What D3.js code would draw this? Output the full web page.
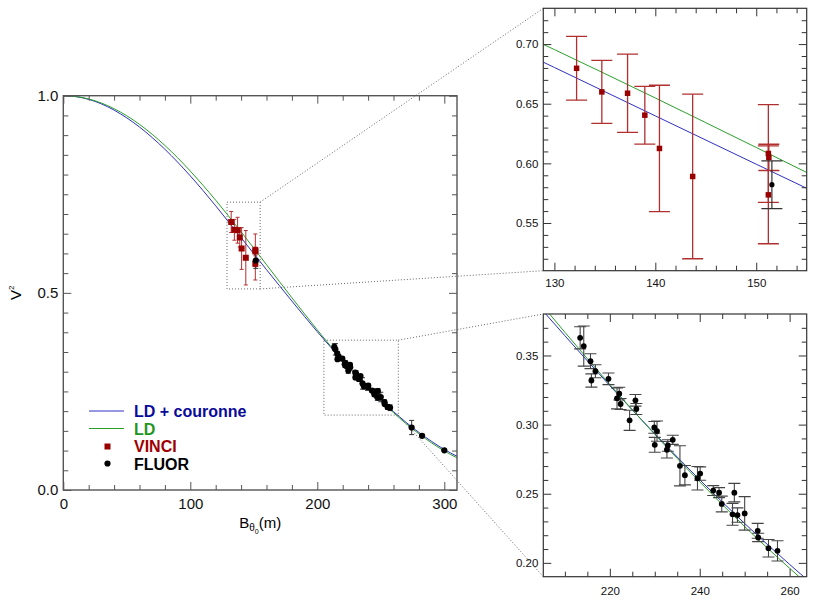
<html>
<head>
  <meta charset='utf-8' />
  <style>
    text { font-family: 'Liberation Sans', Arial, Helvetica, sans-serif; }
  </style>
</head>

<body style='padding: 0; margin: 0;'>
  <svg width='818' height='602' style='background-color: white'>
  </svg>
</body>

<script src="https://d3js.org/d3.v7.min.js"></script>

<script>
///////////////////
/// Data
///////////////////

  // model curves, baseline (m) -> V^2
  modelB = [0, 10, 20, 30, 40, 50, 60, 70, 80, 90, 100, 110, 120, 130, 140, 150,
            160, 170, 180, 190, 200, 210, 220, 230, 240, 250, 260, 270, 280, 290, 300, 310]
  modelLD = [1.0, 0.9979, 0.9917, 0.9814, 0.9671, 0.9490, 0.9273, 0.9021, 0.8738, 0.8426,
             0.8088, 0.7728, 0.7349, 0.6954, 0.6548, 0.6133, 0.5714, 0.5294, 0.4876, 0.4464,
             0.4060, 0.3668, 0.3290, 0.2929, 0.2586, 0.2263, 0.1961, 0.1681, 0.1425, 0.1195,
             0.0990, 0.0815]
  modelLDCouronne = [1.0, 0.9976, 0.9907, 0.9792, 0.9634, 0.9437, 0.9205, 0.8938, 0.8641, 0.8316,
                     0.7966, 0.7595, 0.7207, 0.6804, 0.6398, 0.5993, 0.5589, 0.5189, 0.4791, 0.4399,
                     0.4015, 0.3643, 0.3282, 0.2934, 0.2601, 0.2285, 0.1989, 0.1713, 0.1460, 0.1232,
                     0.1028, 0.0855]

  // VINCI measurements
  vinciB   = [132.2, 134.7, 137.25, 138.96, 140.41, 143.7, 151.2, 151.25, 151.2]
  vinciV2  = [0.6797, 0.6599, 0.6588, 0.6404, 0.6125, 0.5890, 0.6083, 0.6050, 0.5736]
  vinciErr = [0.0267, 0.0264, 0.0328, 0.0242, 0.0530, 0.0690, 0.0410, 0.0110, 0.0410]

  // FLUOR measurements
  fluorB   = [151.55,
              213.4, 214.2, 215.7, 215.9, 216.8, 219.7, 221.6, 222.1, 222.4, 224.4, 225.7,
              225.9, 229.9, 230.0, 230.5, 232.7, 232.9, 234.0, 235.6, 236.7, 239.5, 240.1,
              243.0, 244.3, 244.9, 247.3, 247.7, 248.4, 250.0, 252.9, 253.0, 255.3, 257.3,
              274.3, 282.5, 300.0]
  fluorV2  = [0.5821,
              0.3628, 0.3568, 0.3459, 0.3319, 0.3386, 0.3331, 0.3190, 0.3224, 0.3149, 0.3031, 0.3176,
              0.3113, 0.2980, 0.2854, 0.2953, 0.2818, 0.2849, 0.2890, 0.2702, 0.2634, 0.2612, 0.2646,
              0.2523, 0.2508, 0.2426, 0.2351, 0.2508, 0.2346, 0.2358, 0.2232, 0.2184, 0.2106, 0.2087,
              0.1585, 0.1375, 0.1007]
  fluorErr = [0.0200,
              0.0080, 0.0145, 0.0054, 0.0048, 0.0047, 0.0042, 0.0076, 0.0046, 0.0040, 0.0073, 0.0042,
              0.0040, 0.0042, 0.0054, 0.0073, 0.0060, 0.0042, 0.0033, 0.0145, 0.0070, 0.0085, 0.0048,
              0.0036, 0.0036, 0.0057, 0.0079, 0.0067, 0.0052, 0.0121, 0.0054, 0.0030, 0.0063, 0.0073,
              0.0180, 0.0040, 0.0030]

  legendLabels = ['LD + couronne', 'LD', 'VINCI', 'FLUOR']

  // ticks
  mainXMajor = [0, 100, 200, 300]
  mainYMajor = [0.0, 0.5, 1.0]
  topXMajor = [130, 140, 150]
  topYMajor = [0.55, 0.60, 0.65, 0.70]
  botXMajor = [220, 240, 260]
  botYMajor = [0.20, 0.25, 0.30, 0.35]

  blue = '#2f2fc4'
  green = '#2aa02a'
  red = '#990000'
  redBar = '#b03030'

  svg = d3.select('svg')

  ld = modelB.map((b, i) => [b, modelLD[i]])
  ldc = modelB.map((b, i) => [b, modelLDCouronne[i]])
  vinci = vinciB.map((b, i) => ({b: b, v: vinciV2[i], e: vinciErr[i]}))
  fluor = fluorB.map((b, i) => ({b: b, v: fluorV2[i], e: fluorErr[i]}))

///////////////////
/// Panels
///////////////////

  function makePanel(id, box, xDom, yDom) {
    const g = svg.append('g')
      .attr('id', id)
      .attr('transform', `translate(${box.left}, ${box.top})`)
    const x = d3.scaleLinear().domain(xDom).range([0, box.right - box.left])
    const y = d3.scaleLinear().domain(yDom).range([box.bottom - box.top, 0])
    g.append('clipPath').attr('id', id + '_clip')
      .append('rect')
      .attr('width', x.range()[1]).attr('height', y.range()[0])
    const plot = g.append('g').attr('clip-path', `url(#${id}_clip)`)
    return {g: g, plot: plot, x: x, y: y, box: box}
  }

  function drawFrame(p, o) {
    const w = p.x.range()[1], h = p.y.range()[0]
    const fmtX = d3.format(o.xFmt), fmtY = d3.format(o.yFmt)
    const style = sel => {
      sel.select('.domain').remove()
      sel.attr('color', o.color).selectAll('line').attr('stroke-width', 1)
      sel.selectAll('text').style('font-size', o.font + 'px').attr('fill', '#111')
    }
    const axes = [
      [d3.axisBottom, `translate(0, ${h})`, p.x, o.xMajor, o.xMinor, fmtX, o.xPad],
      [d3.axisTop, 'translate(0, 0)', p.x, o.xMajor, o.xMinor, null, 0],
      [d3.axisLeft, 'translate(0, 0)', p.y, o.yMajor, o.yMinor, fmtY, o.yPad],
      [d3.axisRight, `translate(${w}, 0)`, p.y, o.yMajor, o.yMinor, null, 0]
    ]
    axes.forEach(a => {
      p.g.append('g').attr('transform', a[1])
        .call(a[0](a[2]).tickValues(a[4]).tickFormat('').tickSize(-o.minorLen))
        .call(style)
      p.g.append('g').attr('transform', a[1])
        .call(a[0](a[2]).tickValues(a[3]).tickFormat(a[5] ? a[5] : '')
          .tickSize(-o.majorLen).tickPadding(a[6]))
        .call(style)
    })
    p.g.append('rect')
      .attr('width', w).attr('height', h)
      .attr('fill', 'none')
      .attr('stroke', o.color)
      .attr('stroke-width', o.frameW)
  }

  function drawCurves(p) {
    const line = d3.line()
      .x(d => p.x(d[0]))
      .y(d => p.y(d[1]))
      .curve(d3.curveMonotoneX)
    p.plot.append('path').datum(ldc)
      .attr('fill', 'none').attr('stroke', blue).attr('stroke-width', 1).attr('d', line)
    p.plot.append('path').datum(ld)
      .attr('fill', 'none').attr('stroke', green).attr('stroke-width', 1).attr('d', line)
  }

  function drawErrors(p, data, color, cap, width) {
    const eb = p.plot.append('g').attr('stroke', color).attr('stroke-width', width)
    eb.selectAll('.bar').data(data).enter().append('line')
      .attr('x1', d => p.x(d.b)).attr('x2', d => p.x(d.b))
      .attr('y1', d => p.y(d.v + d.e)).attr('y2', d => p.y(d.v - d.e))
    eb.selectAll('.capTop').data(data).enter().append('line')
      .attr('x1', d => p.x(d.b) - cap / 2).attr('x2', d => p.x(d.b) + cap / 2)
      .attr('y1', d => p.y(d.v + d.e)).attr('y2', d => p.y(d.v + d.e))
    eb.selectAll('.capBot').data(data).enter().append('line')
      .attr('x1', d => p.x(d.b) - cap / 2).attr('x2', d => p.x(d.b) + cap / 2)
      .attr('y1', d => p.y(d.v - d.e)).attr('y2', d => p.y(d.v - d.e))
  }

  function drawVinci(p, size) {
    p.plot.append('g').selectAll('rect').data(vinci).enter().append('rect')
      .attr('x', d => p.x(d.b) - size / 2)
      .attr('y', d => p.y(d.v) - size / 2)
      .attr('width', size).attr('height', size)
      .attr('fill', red)
  }

  function drawFluor(p, r) {
    p.plot.append('g').selectAll('circle').data(fluor).enter().append('circle')
      .attr('cx', d => p.x(d.b))
      .attr('cy', d => p.y(d.v))
      .attr('r', r)
      .attr('fill', 'black')
  }

///////////////////
/// Main chart
///////////////////

  topIns = {left: 543.3, top: 8.3, right: 806.7, bottom: 270.7}
  botIns = {left: 543.3, top: 314, right: 806.7, bottom: 576.7}
  topXDom = [128.9, 155.0], topYDom = [0.51, 0.73]
  botXDom = [205.2, 263.8], botYDom = [0.19, 0.38]

  main = makePanel('main', {left: 63.3, top: 95.7, right: 457, bottom: 490}, [0, 310], [0, 1])

  // zoom boxes and connectors (behind the data)
  dotted = svg.append('g')
    .attr('fill', 'none').attr('stroke', '#666')
    .attr('stroke-width', 1).attr('stroke-dasharray', '1,2')
  ;[[topXDom, topYDom, topIns], [botXDom, botYDom, botIns]].forEach(z => {
    const x0 = main.box.left + main.x(z[0][0]), x1 = main.box.left + main.x(z[0][1])
    const y0 = main.box.top + main.y(z[1][1]), y1 = main.box.top + main.y(z[1][0])
    dotted.append('rect').attr('x', x0).attr('y', y0).attr('width', x1 - x0).attr('height', y1 - y0)
    dotted.append('line').attr('x1', x1).attr('y1', y0).attr('x2', z[2].left).attr('y2', z[2].top)
    dotted.append('line').attr('x1', x1).attr('y1', y1).attr('x2', z[2].left).attr('y2', z[2].bottom)
  })
  main.g.raise()

  drawCurves(main)
  drawErrors(main, vinci, redBar, 4, 1)
  drawErrors(main, fluor, '#333', 5, 1)
  drawVinci(main, 6)
  drawFluor(main, 3.1)

  drawFrame(main, {
    xMajor: mainXMajor, xMinor: d3.range(20, 310, 20).filter(v => v % 100),
    yMajor: mainYMajor, yMinor: d3.range(1, 20).filter(v => v != 10).map(v => v * 0.05),
    xFmt: 'd', yFmt: '.1f', font: 15, xPad: 8, yPad: 5,
    majorLen: 8, minorLen: 5, color: '#555', frameW: 1.4
  })

  // axis titles
  xTitle = svg.append('text')
    .attr('x', main.box.left + main.x(155))
    .attr('y', 528)
    .attr('text-anchor', 'middle')
    .style('font-size', '15px')
  xTitle.append('tspan').text('B')
  xTitle.append('tspan').text('θ').style('font-size', '10px').attr('dy', 3)
  xTitle.append('tspan').text('0').style('font-size', '7px').attr('dy', 3)
  xTitle.append('tspan').text('(m)').attr('dy', -6)

  yTitle = svg.append('text')
    .attr('transform', `translate(21, ${main.box.top + main.y(0.5)}) rotate(-90)`)
    .attr('text-anchor', 'middle')
    .style('font-size', '15px')
  yTitle.append('tspan').text('V')
  yTitle.append('tspan').text('2').style('font-size', '8px').attr('dy', -7)

  // legend
  legend = svg.append('g').attr('transform', 'translate(89, 411)')
  legendColors = ['#0a0a9a', '#1f961f', '#a00000', 'black']
  legend.selectAll('text').data(legendLabels).enter().append('text')
    .attr('x', 45)
    .attr('y', (d, i) => i * 17.5 + 6)
    .style('font-size', '16px')
    .style('font-weight', 'bold')
    .attr('fill', (d, i) => legendColors[i])
    .text(d => d)
  legend.append('line').attr('x1', 0).attr('x2', 35).attr('y1', 0).attr('y2', 0)
    .attr('stroke', blue).attr('stroke-width', 1)
  legend.append('line').attr('x1', 0).attr('x2', 35).attr('y1', 17.5).attr('y2', 17.5)
    .attr('stroke', green).attr('stroke-width', 1)
  legend.append('rect').attr('x', 15.5).attr('y', 32.5).attr('width', 6).attr('height', 6)
    .attr('fill', red)
  legend.append('circle').attr('cx', 18.5).attr('cy', 52.5).attr('r', 3.1)
    .attr('fill', 'black')

///////////////////
/// Zoom insets
///////////////////

  top_ = makePanel('zoomVinci', topIns, topXDom, topYDom)
  top_.g.append('rect').attr('width', top_.x.range()[1]).attr('height', top_.y.range()[0])
    .attr('fill', 'white')
  top_.plot.raise()
  drawCurves(top_)
  drawErrors(top_, vinci, redBar, 21, 1.3)
  drawErrors(top_, fluor, '#333', 21, 1.2)
  drawVinci(top_, 5.5)
  drawFluor(top_, 2.6)
  drawFrame(top_, {
    xMajor: topXMajor, xMinor: d3.range(65, 78).filter(v => v % 5).map(v => v * 2),
    yMajor: topYMajor, yMinor: d3.range(52, 73).filter(v => v % 5).map(v => v / 100),
    xFmt: 'd', yFmt: '.2f', font: 11.5, xPad: 8, yPad: 5,
    majorLen: 8, minorLen: 5, color: '#333', frameW: 1.2
  })

  bot = makePanel('zoomFluor', botIns, botXDom, botYDom)
  bot.g.append('rect').attr('width', bot.x.range()[1]).attr('height', bot.y.range()[0])
    .attr('fill', 'white')
  bot.plot.raise()
  drawCurves(bot)
  drawErrors(bot, fluor, '#444', 12, 1.1)
  drawFluor(bot, 2.9)
  drawFrame(bot, {
    xMajor: botXMajor, xMinor: d3.range(42, 53).filter(v => v % 4).map(v => v * 5),
    yMajor: botYMajor, yMinor: d3.range(20, 38).filter(v => v % 5).map(v => v / 100),
    xFmt: 'd', yFmt: '.2f', font: 11.5, xPad: 10, yPad: 5,
    majorLen: 8, minorLen: 5, color: '#333', frameW: 1.2
  })

</script>
</html>
